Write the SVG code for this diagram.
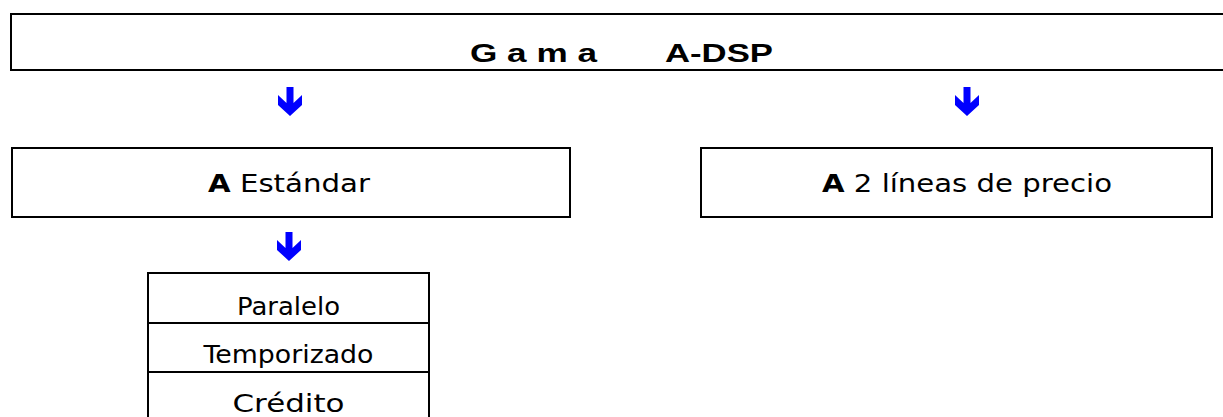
<svg xmlns="http://www.w3.org/2000/svg" xmlns:xlink="http://www.w3.org/1999/xlink" width="1223" height="417" viewBox="0 0 1223 417">
<style>
.box{fill:#fff;stroke:#000;stroke-width:2}
.ln{stroke:#000;stroke-width:2;fill:none}
.title{font-family:"Liberation Sans",Arial,sans-serif;font-weight:bold;font-size:26px;fill:#000}
.lbl{font-family:"DejaVu Sans",Verdana,sans-serif;font-size:25px;fill:#000}
.cell{font-family:"DejaVu Sans",Verdana,sans-serif;font-size:24px;fill:#000;text-anchor:middle}
.b{font-weight:bold}
.arr{fill:#0000FF}
</style>
<defs>
<polygon id="arrow" class="arr" points="-3.5,0 3.5,0 3.5,16 12,8 12,18 0,29 -12,18 -12,8 -3.5,16"/>
</defs>
<rect width="1223" height="417" fill="#fff"/>
<g id="gama">
<rect class="box" x="11" y="14" width="1230" height="56"/>
<text class="title" x="470" y="62" textLength="127" lengthAdjust="spacingAndGlyphs">G a m a</text>
<text class="title" x="665" y="62" textLength="108" lengthAdjust="spacingAndGlyphs">A-DSP</text>
</g>
<g id="estandar">
<rect class="box" x="12" y="148" width="558" height="69"/>
<text class="lbl" x="208" y="192" textLength="162" lengthAdjust="spacingAndGlyphs"><tspan class="b">A</tspan> Estándar</text>
</g>
<g id="dos-lineas">
<rect class="box" x="701" y="148" width="511" height="69"/>
<text class="lbl" x="822" y="192" textLength="290" lengthAdjust="spacingAndGlyphs"><tspan class="b">A</tspan> 2 líneas de precio</text>
</g>
<g id="tipos">
<rect class="box" x="148" y="273" width="281" height="160"/>
<line class="ln" x1="148" y1="323" x2="429" y2="323"/>
<line class="ln" x1="148" y1="372" x2="429" y2="372"/>
<text class="cell" x="288.5" y="315" textLength="103" lengthAdjust="spacingAndGlyphs">Paralelo</text>
<text class="cell" x="288.5" y="363" textLength="170" lengthAdjust="spacingAndGlyphs">Temporizado</text>
<text class="cell" x="288.5" y="412" textLength="112" lengthAdjust="spacingAndGlyphs">Crédito</text>
</g>
<g id="connectors">
<use xlink:href="#arrow" x="290" y="87"/>
<use xlink:href="#arrow" x="967" y="87"/>
<use xlink:href="#arrow" x="289" y="232"/>
</g>
</svg>
